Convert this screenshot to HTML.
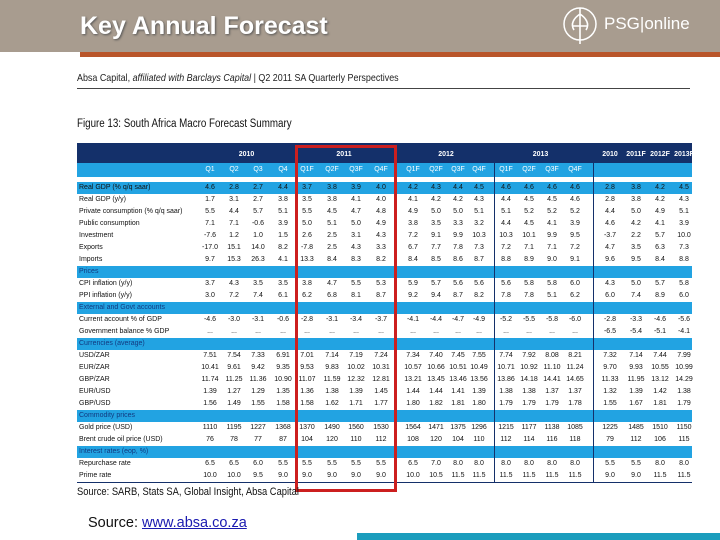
<!DOCTYPE html>
<html><head><meta charset="utf-8">
<style>
html,body{margin:0;padding:0;}
body{width:720px;height:540px;position:relative;overflow:hidden;background:#fff;font-family:"Liberation Sans",sans-serif;}
.abs{position:absolute;}
.c{position:absolute;font-size:7px;color:#111;transform:translateX(-50%);white-space:nowrap;line-height:12px;}
.lbl{position:absolute;font-size:7px;color:#111;white-space:nowrap;line-height:12px;left:79px;}
</style></head><body>
<div class="abs" style="left:0;top:0;width:720px;height:52px;background:#a89c8f;"></div>
<div class="abs" style="left:80px;top:52px;width:640px;height:5px;background:#b9552a;"></div>
<div class="abs" style="left:80px;top:12px;font-size:25px;font-weight:bold;color:#fff;text-shadow:1px 1px 2px #555;">Key Annual Forecast</div>
<svg class="abs" style="left:560px;top:4px" width="40" height="42" viewBox="0 0 40 42">
<circle cx="20" cy="20" r="16" fill="none" stroke="#fff" stroke-width="1.5"/>
<path d="M20 4 L20 40 M20 10 C14 14 10 20 14 26 M20 10 C26 14 30 20 26 26 M12 22 h16" stroke="#fff" stroke-width="1.6" fill="none"/>
</svg>
<div class="abs" style="left:604px;top:14px;font-size:17px;color:#fff;">PSG|online</div>
<div class="abs" style="left:77px;top:72px;font-size:10.5px;color:#222;transform:scaleX(0.85);transform-origin:left;">Absa Capital, <i>affiliated with Barclays Capital</i> | Q2 2011 SA Quarterly Perspectives</div>
<div class="abs" style="left:77px;top:88px;width:613px;height:1px;background:#444;"></div>
<div class="abs" style="left:77px;top:118px;font-size:11.5px;color:#111;transform:scaleX(0.85);transform-origin:left;">Figure 13: South Africa Macro Forecast Summary</div>
<div id="tbl"></div>
<div class="abs" style="left:77px;top:486px;font-size:11px;color:#111;transform:scaleX(0.85);transform-origin:left;">Source: SARB, Stats SA, Global Insight, Absa Capital</div>
<div class="abs" style="left:88px;top:515px;font-size:14.5px;color:#111;">Source: <a style="color:#1a1ab0;text-decoration:underline;">www.absa.co.za</a></div>
<div class="abs" style="left:357px;top:533px;width:363px;height:7px;background:#1b9dbd;"></div>
<script>
const groupYears=["2010","2011","2012","2013"];
const quarterLabels=["Q1","Q2","Q3","Q4","Q1F","Q2F","Q3F","Q4F","Q1F","Q2F","Q3F","Q4F","Q1F","Q2F","Q3F","Q4F"];
const annualLabels=["2010","2011F","2012F","2013F"];
const rowLabels=["Real GDP (% q/q saar)"," Real GDP (y/y)","Private consumption (% q/q saar)","Public consumption","Investment","Exports","Imports","Prices","CPI inflation (y/y)","PPI inflation (y/y)","External and Govt accounts","  Current account % of GDP","  Government balance % GDP","Currencies (average)","  USD/ZAR","  EUR/ZAR","  GBP/ZAR","  EUR/USD","  GBP/USD","Commodity prices","  Gold price (USD)","  Brent crude oil price (USD)","Interest rates (eop, %)","Repurchase rate","Prime rate"];
const rowKinds=["blue","","","","","","","sec","","","sec","","","sec","","","","","","sec","","","sec","",""];
const rowValues=[
"4.6 2.8 2.7 4.4 3.7 3.8 3.9 4.0 4.2 4.3 4.4 4.5 4.6 4.6 4.6 4.6 2.8 3.8 4.2 4.5",
"1.7 3.1 2.7 3.8 3.5 3.8 4.1 4.0 4.1 4.2 4.2 4.3 4.4 4.5 4.5 4.6 2.8 3.8 4.2 4.3",
"5.5 4.4 5.7 5.1 5.5 4.5 4.7 4.8 4.9 5.0 5.0 5.1 5.1 5.2 5.2 5.2 4.4 5.0 4.9 5.1",
"7.1 7.1 -0.6 3.9 5.0 5.1 5.0 4.9 3.8 3.5 3.3 3.2 4.4 4.5 4.1 3.9 4.6 4.2 4.1 3.9",
"-7.6 1.2 1.0 1.5 2.6 2.5 3.1 4.3 7.2 9.1 9.9 10.3 10.3 10.1 9.9 9.5 -3.7 2.2 5.7 10.0",
"-17.0 15.1 14.0 8.2 -7.8 2.5 4.3 3.3 6.7 7.7 7.8 7.3 7.2 7.1 7.1 7.2 4.7 3.5 6.3 7.3",
"9.7 15.3 26.3 4.1 13.3 8.4 8.3 8.2 8.4 8.5 8.6 8.7 8.8 8.9 9.0 9.1 9.6 9.5 8.4 8.8",
"",
"3.7 4.3 3.5 3.5 3.8 4.7 5.5 5.3 5.9 5.7 5.6 5.6 5.6 5.8 5.8 6.0 4.3 5.0 5.7 5.8",
"3.0 7.2 7.4 6.1 6.2 6.8 8.1 8.7 9.2 9.4 8.7 8.2 7.8 7.8 5.1 6.2 6.0 7.4 8.9 6.0",
"",
"-4.6 -3.0 -3.1 -0.6 -2.8 -3.1 -3.4 -3.7 -4.1 -4.4 -4.7 -4.9 -5.2 -5.5 -5.8 -6.0 -2.8 -3.3 -4.6 -5.6",
"... ... ... ... ... ... ... ... ... ... ... ... ... ... ... ... -6.5 -5.4 -5.1 -4.1",
"",
"7.51 7.54 7.33 6.91 7.01 7.14 7.19 7.24 7.34 7.40 7.45 7.55 7.74 7.92 8.08 8.21 7.32 7.14 7.44 7.99",
"10.41 9.61 9.42 9.35 9.53 9.83 10.02 10.31 10.57 10.66 10.51 10.49 10.71 10.92 11.10 11.24 9.70 9.93 10.55 10.99",
"11.74 11.25 11.36 10.90 11.07 11.59 12.32 12.81 13.21 13.45 13.46 13.56 13.86 14.18 14.41 14.65 11.33 11.95 13.12 14.29",
"1.39 1.27 1.29 1.35 1.36 1.38 1.39 1.45 1.44 1.44 1.41 1.39 1.38 1.38 1.37 1.37 1.32 1.39 1.42 1.38",
"1.56 1.49 1.55 1.58 1.58 1.62 1.71 1.77 1.80 1.82 1.81 1.80 1.79 1.79 1.79 1.78 1.55 1.67 1.81 1.79",
"",
"1110 1195 1227 1368 1370 1490 1560 1530 1564 1471 1375 1296 1215 1177 1138 1085 1225 1485 1510 1150",
"76 78 77 87 104 120 110 112 108 120 104 110 112 114 116 118 79 112 106 115",
"",
"6.5 6.5 6.0 5.5 5.5 5.5 5.5 5.5 6.5 7.0 8.0 8.0 8.0 8.0 8.0 8.0 5.5 5.5 8.0 8.0",
"10.0 10.0 9.5 9.0 9.0 9.0 9.0 9.0 10.0 10.5 11.5 11.5 11.5 11.5 11.5 11.5 9.0 9.0 11.5 11.5"
];
(function(){
const T=document.getElementById('tbl');
const L=77,R=692,TOP=143,ROW0=182,RH=12;
const colX=[210,234,258,283,307,332,356,381,413,436,458,479,506,529,552,575,610,636,660,684];
function box(x,y,w,h,bg,name){const d=document.createElement('div');d.className='abs';d.style.cssText=`left:${x}px;top:${y}px;width:${w}px;height:${h}px;background:${bg}`;


T.appendChild(d);return d;}
function txt(x,y,s,cls,color,name){const d=document.createElement('div');d.className=cls;if(cls==='c')d.style.left=x+'px';d.style.top=y+'px';if(color)d.style.color=color;d.textContent=s;


T.appendChild(d);return d;}
box(L,TOP,R-L,20,'#14306a','header-year-row');
box(L,TOP+20,R-L,14,'#22a3e2','header-quarter-row');
groupYears.forEach((y,g)=>{const cx=(colX[g*4]+colX[g*4+3])/2;const e=txt(cx,TOP+6,y,'c','#fff','year-label');e.style.fontWeight='bold';});
annualLabels.forEach((a,i)=>{const e=txt(colX[16+i],TOP+6,a,'c','#fff','annual-label');e.style.fontWeight='bold';});
quarterLabels.forEach((q,i)=>txt(colX[i],TOP+21,q,'c','#fff','quarter-label'));
rowLabels.forEach((lab,r)=>{const y=ROW0+r*RH;const k=rowKinds[r];
if(k) box(L,y,R-L,RH,'#22a3e2',k==='sec'?'section-row':'highlight-row');
txt(0,y,lab,'lbl',k==='sec'?'#123a80':'#111','row-label');
if(rowValues[r]){rowValues[r].split(' ').forEach((v,i)=>txt(colX[i],y,v,'c',null,'cell-value'));}
});
const bottom=ROW0+rowLabels.length*RH;
box(L,bottom,R-L,1,'#14306a','table-bottom-rule');
[395,494,593].forEach(x=>box(x,TOP+20,1,bottom-TOP-20,'#14306a','group-divider'));
const red=document.createElement('div');red.className='abs';red.style.cssText=`left:295px;top:${TOP+2}px;width:96px;height:${bottom-TOP+2}px;border:3px solid #cc1f1f;`;


T.appendChild(red);
})();
</script>
</body></html>
